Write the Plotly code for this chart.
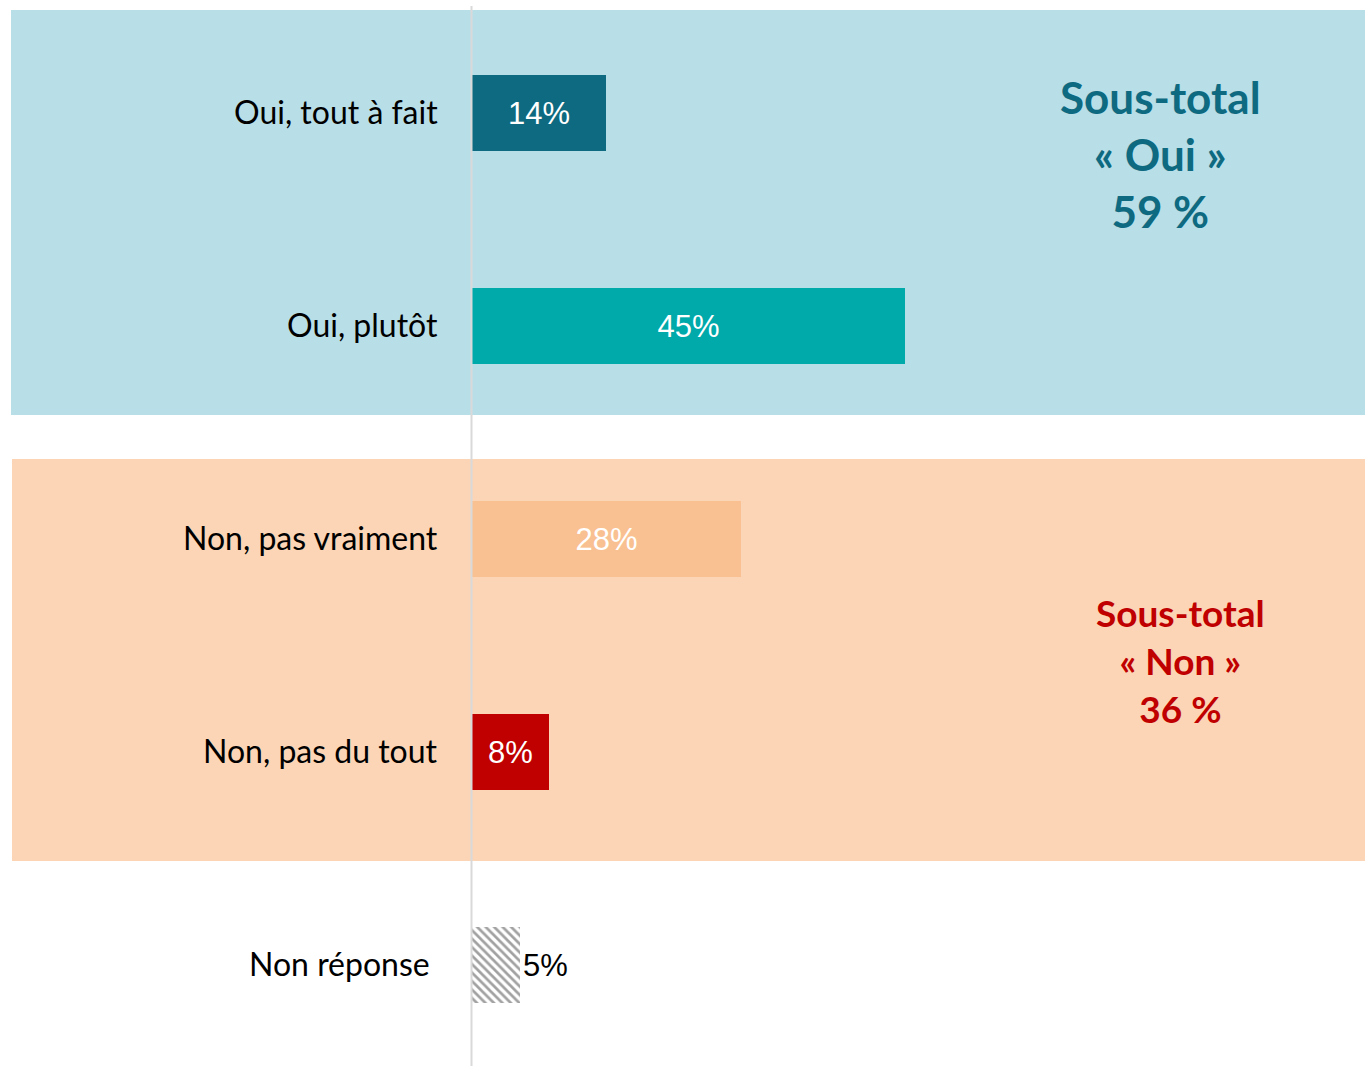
import plotly.graph_objects as go

categories = ["Oui, tout à fait", "Oui, plutôt", "Non, pas vraiment", "Non, pas du tout", "Non réponse"]
values = [14, 45, 28, 8, 5]
value_labels = ["14%", "45%", "28%", "8%", "5%"]
bar_colors = ["#0e6a80", "#00a9aa", "#f9c191", "#c00000", "#ffffff"]
subtotal_oui = ["Sous-total", "« Oui »", "59 %"]
subtotal_non = ["Sous-total", "« Non »", "36 %"]

W, H = 1365, 1066
X0_PX = 471.5          # pixel of value 0
PX_PER_UNIT = 9.64     # pixels per percentage point
Y0_PX = 113.0          # pixel centre of first category
ROW_PX = 213.0         # pixels between categories

def px_to_x(px):
    return (px - X0_PX) / PX_PER_UNIT

def px_to_y(py):
    return (py - Y0_PX) / ROW_PX

fig = go.Figure()

# group background bands
fig.add_shape(type="rect", xref="paper", yref="y", x0=11 / W, x1=1.0,
              y0=px_to_y(10), y1=px_to_y(415), fillcolor="#b8dee8", line_width=0, layer="below")
fig.add_shape(type="rect", xref="paper", yref="y", x0=12 / W, x1=1.0,
              y0=px_to_y(459), y1=px_to_y(861), fillcolor="#fbd5b5", line_width=0, layer="below")

ypos = list(range(len(categories)))

patterns = ["", "", "", "", "\\"]
fig.add_trace(go.Bar(
    x=values, y=ypos, orientation="h",
    width=76 / ROW_PX,
    marker=dict(color=bar_colors, line_width=0,
                pattern=dict(shape=patterns, fgcolor="#dcdcdc", bgcolor="#ffffff", size=6, solidity=0.45)),
    text=value_labels,
    textposition=["inside", "inside", "inside", "inside", "outside"],
    insidetextanchor="middle",
    textfont=dict(family="Liberation Sans, Arial", size=31,
                  color=["#ffffff", "#ffffff", "#ffffff", "#ffffff", "#000000"]),
    constraintext="none",
    cliponaxis=False,
    hoverinfo="skip",
))

# vertical zero line
fig.add_shape(type="line", xref="x", yref="y", x0=0, x1=0,
              y0=px_to_y(6), y1=px_to_y(1066), line=dict(color="#d9d9d9", width=2), layer="above")

# category labels
for i, cat in enumerate(categories):
    shift = -40 if i == len(categories) - 1 else -32
    fig.add_annotation(x=0, y=i, xref="x", yref="y", text=cat, showarrow=False,
                       xanchor="right", yanchor="middle", xshift=shift, yshift=2,
                       font=dict(family="Lato, Open Sans", size=32, color="#000000"))

# subtotal annotations
fig.add_annotation(xref="paper", yref="y", x=1160 / W, y=px_to_y(154),
                   text="<br>".join(subtotal_oui), showarrow=False, align="center",
                   xanchor="center", yanchor="middle",
                   font=dict(family="Lato, Open Sans", size=44, color="#0e6a80", weight="bold"))
fig.add_annotation(xref="paper", yref="y", x=1180 / W, y=px_to_y(660),
                   text="<br>".join(subtotal_non), showarrow=False, align="center",
                   xanchor="center", yanchor="middle",
                   font=dict(family="Lato, Open Sans", size=37, color="#c00000", weight="bold"))

fig.update_xaxes(range=[px_to_x(0), px_to_x(W)], visible=False, showgrid=False, zeroline=False)
fig.update_yaxes(range=[px_to_y(H), px_to_y(0)], visible=False, showgrid=False, zeroline=False)

fig.update_layout(width=W, height=H, margin=dict(l=0, r=0, t=0, b=0),
                  paper_bgcolor="#ffffff", plot_bgcolor="rgba(0,0,0,0)",
                  showlegend=False, bargap=0)

fig.write_html("out.html", config={"displayModeBar": False},
               post_script="document.body.style.margin='0';document.body.style.overflow='hidden';")
